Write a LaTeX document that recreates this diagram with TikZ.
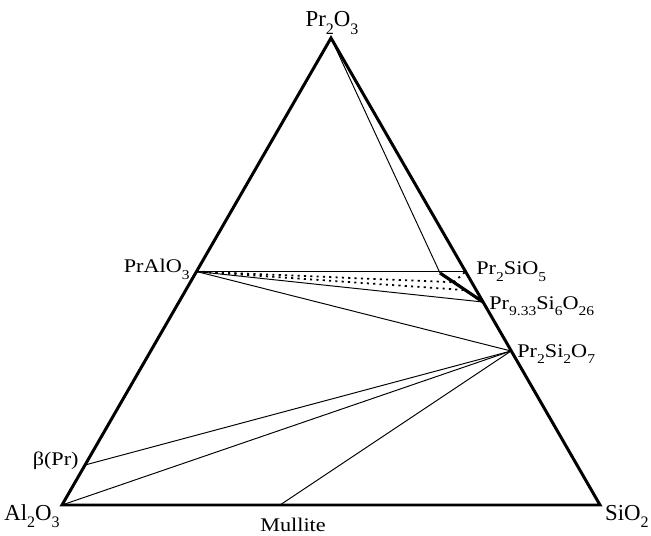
\documentclass[tikz,border=0pt]{standalone}
\usepackage{fontspec}
\setmainfont{Liberation Serif}
\newfontfamily\cornerfont{Liberation Serif}
\newfontfamily\phasefont[FakeStretch=1.15]{Liberation Serif}
\usetikzlibrary{calc}
\newcommand{\chemsub}[1]{\raisebox{-0.35em}{\scalebox{0.7}{#1}}}

\begin{document}
\begin{tikzpicture}[
  x=0.02cm, y=-0.02cm,
  edge/.style={line width=1.7pt, line join=miter},
  tie/.style={line width=0.55pt},
  tiedot/.style={line width=1.0pt, dash pattern=on 1.2pt off 2.4pt},
  sstie/.style={line width=1.8pt},
  cornerlbl/.style={font=\cornerfont\fontsize{13}{15}\selectfont, inner sep=0pt},
  phaselbl/.style={font=\phasefont\fontsize{11}{13}\selectfont, inner sep=0pt}
]
\useasboundingbox (0,0) rectangle (651,536);

% corners of the triangle
\coordinate (pr2o3) at (331,38);
\coordinate (al2o3) at (62,505);
\coordinate (sio2) at (600,505);

% compounds
\coordinate (pralo3) at (196.5,271.5);
\coordinate (pr2sio5) at (465.5,271.5);
\coordinate (apx) at (440,273);
\coordinate (apat) at (483,302);
\coordinate (pr2si2o7) at (511,351);
\coordinate (beta) at (85,465);
\coordinate (mullite) at (280,505);
\coordinate (ss1) at ($(apx)!0.32!(apat)$);
\coordinate (ss2) at ($(apx)!0.59!(apat)$);

% labels
\node[cornerlbl, anchor=base] (lpr2o3) at (332,27) {Pr\chemsub{2}O\chemsub{3}};
\node[cornerlbl, anchor=base east] (lal2o3) at (60,520) {Al\chemsub{2}O\chemsub{3}};
\node[cornerlbl, anchor=base east] (lsio2) at (649,520) {SiO\chemsub{2}};
\node[phaselbl, anchor=base east] (lpralo3) at (190,273) {PrAlO\chemsub{3}};
\node[phaselbl, anchor=base west] (lpr2sio5) at (476,275) {Pr\chemsub{2}SiO\chemsub{5}};
\node[phaselbl, anchor=base west] (lapat) at (489,309) {Pr\chemsub{9.33}Si\chemsub{6}O\chemsub{26}};
\node[phaselbl, anchor=base west] (lpr2si2o7) at (517,357) {Pr\chemsub{2}Si\chemsub{2}O\chemsub{7}};
\node[phaselbl, anchor=base east] (lbeta) at (79,465) {β(Pr)};
\node[phaselbl, anchor=base] (lmullite) at (293,531) {Mullite};

% triangle
\draw[edge] (pr2o3) -- (al2o3) -- (sio2) -- cycle;

% tie lines
\draw[tie] (pr2o3) -- (apx);
\draw[tie] (pralo3) -- (pr2sio5);
\draw[tie] (pralo3) -- (apat);
\draw[tie] (pralo3) -- (pr2si2o7);
\draw[tie] (pr2si2o7) -- (beta);
\draw[tie] (pr2si2o7) -- (al2o3);
\draw[tie] (pr2si2o7) -- (mullite);
\draw[tiedot] (pralo3) -- (ss1);
\draw[tiedot] (pralo3) -- (ss2);
\draw[tiedot] (ss1) -- (pr2sio5);

% solid solution
\draw[sstie] (apx) -- (apat);
\end{tikzpicture}
\end{document}
